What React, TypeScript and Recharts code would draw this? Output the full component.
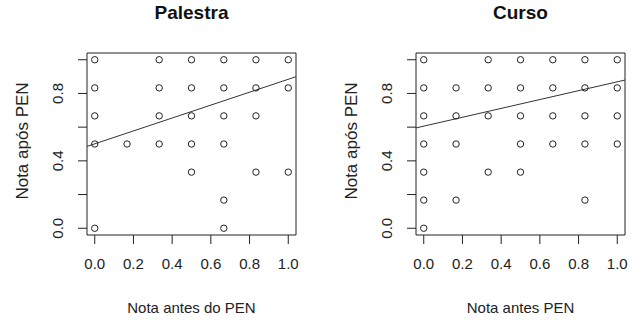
import React from 'react';
import { ReferenceArea, ReferenceLine, Scatter, ScatterChart, XAxis, YAxis } from 'recharts';

// notas em sextos (0, 1/6, ..., 1)
const palestraAntes = [0, 0.333, 0.5, 0.667, 0.833, 1, 0, 0.333, 0.5, 0.667, 0.833, 1, 0, 0.333, 0.5, 0.667, 0.833, 0, 0.167, 0.333, 0.5, 0.667, 0.5, 0.833, 1, 0.667, 0, 0.667];
const palestraApos = [1, 1, 1, 1, 1, 1, 0.833, 0.833, 0.833, 0.833, 0.833, 0.833, 0.667, 0.667, 0.667, 0.667, 0.667, 0.5, 0.5, 0.5, 0.5, 0.5, 0.333, 0.333, 0.333, 0.167, 0, 0];

const cursoAntes = [0, 0.333, 0.5, 0.667, 0.833, 1, 0, 0.167, 0.333, 0.5, 0.667, 0.833, 1, 0, 0.167, 0.333, 0.5, 0.667, 0.833, 1, 0, 0.167, 0.5, 0.667, 0.833, 1, 0, 0.333, 0.5, 0, 0.167, 0.833, 0];
const cursoApos = [1, 1, 1, 1, 1, 1, 0.833, 0.833, 0.833, 0.833, 0.833, 0.833, 0.833, 0.667, 0.667, 0.667, 0.667, 0.667, 0.667, 0.667, 0.5, 0.5, 0.5, 0.5, 0.5, 0.5, 0.333, 0.333, 0.333, 0.167, 0.167, 0.167, 0];

// reta de regressão (intercepto, inclinação)
const palestraReta = [0.501, 0.383];
const cursoReta = [0.606, 0.263];

const xTicks = [0, 0.2, 0.4, 0.6, 0.8, 1];
const yTicks = [0, 0.2, 0.4, 0.6, 0.8, 1];
const yLabeled = [0, 0.4, 0.8];

const FONT = '"Liberation Sans", Arial, sans-serif';
const INK = '#222';
const DOMAIN: [number, number] = [-0.04, 1.04];

const XTick = (props: any) => (
  <text x={props.x} y={269} textAnchor="middle" fontSize={15} fontFamily={FONT} fill={INK}>
    {props.payload.value.toFixed(1)}
  </text>
);

const YTick = (props: any) => {
  const v = props.payload.value;
  if (!yLabeled.some(t => Math.abs(t - v) < 1e-6)) return <g />;
  return (
    <text x={63} y={props.y} transform={`rotate(-90 63 ${props.y})`} textAnchor="middle"
      fontSize={15} fontFamily={FONT} fill={INK}>
      {v.toFixed(1)}
    </text>
  );
};

const Dot = (props: any) => (
  <circle cx={props.cx} cy={props.cy} r={3.2} fill="none" stroke={INK} strokeWidth={1} />
);

const Painel = ({ titulo, antes, apos, reta, xLabel, left }: {
  titulo: string; antes: number[]; apos: number[]; reta: number[]; xLabel: string; left: number;
}) => {
  const data = antes.map((x, i) => ({ x, y: apos[i] }));
  const [a, b] = reta;
  return (
    <div style={{ position: 'absolute', left, top: 0, width: 303, height: 320 }}>
      <div style={{
        position: 'absolute', left: 87, width: 209, top: 2, textAlign: 'center',
        fontFamily: FONT, fontWeight: 'bold', fontSize: 19, color: '#111',
      }}>{titulo}</div>
      <ScatterChart width={303} height={320} margin={{ top: 53, right: 7, bottom: 0, left: 0 }}>
        <XAxis type="number" dataKey="x" domain={DOMAIN} allowDataOverflow ticks={xTicks} interval={0}
          height={85} axisLine={false} tickLine={{ stroke: INK }} tickSize={9} tick={<XTick />}
          label={(p: any) => (
            <text x={p.viewBox.x + p.viewBox.width / 2} y={313} textAnchor="middle"
              fontSize={15} fontFamily={FONT} fill={INK}>{xLabel}</text>
          )} />
        <YAxis type="number" dataKey="y" domain={DOMAIN} allowDataOverflow ticks={yTicks} interval={0}
          width={87} axisLine={false} tickLine={{ stroke: INK }} tickSize={9} tick={<YTick />}
          label={(p: any) => (
            <text x={28} y={141} transform="rotate(-90 28 141)" textAnchor="middle"
              fontSize={17} fontFamily={FONT} fill={INK}>Nota após PEN</text>
          )} />
        <ReferenceArea x1={DOMAIN[0]} x2={DOMAIN[1]} y1={DOMAIN[0]} y2={DOMAIN[1]}
          fill="none" fillOpacity={0} stroke={INK} strokeWidth={1} ifOverflow="visible" />
        <ReferenceLine segment={[{ x: DOMAIN[0], y: a + b * DOMAIN[0] }, { x: DOMAIN[1], y: a + b * DOMAIN[1] }]}
          stroke="#333" strokeWidth={1} ifOverflow="visible" />
        <Scatter data={data} shape={<Dot />} isAnimationActive={false} />
      </ScatterChart>
    </div>
  );
};

export default function App() {
  return (
    <div style={{ position: 'absolute', left: 0, top: 0, width: 632, height: 320, background: '#fff', overflow: 'hidden' }}>
      <Painel titulo="Palestra" antes={palestraAntes} apos={palestraApos} reta={palestraReta}
        xLabel="Nota antes do PEN" left={0} />
      <Painel titulo="Curso" antes={cursoAntes} apos={cursoApos} reta={cursoReta}
        xLabel="Nota antes PEN" left={329} />
    </div>
  );
}
